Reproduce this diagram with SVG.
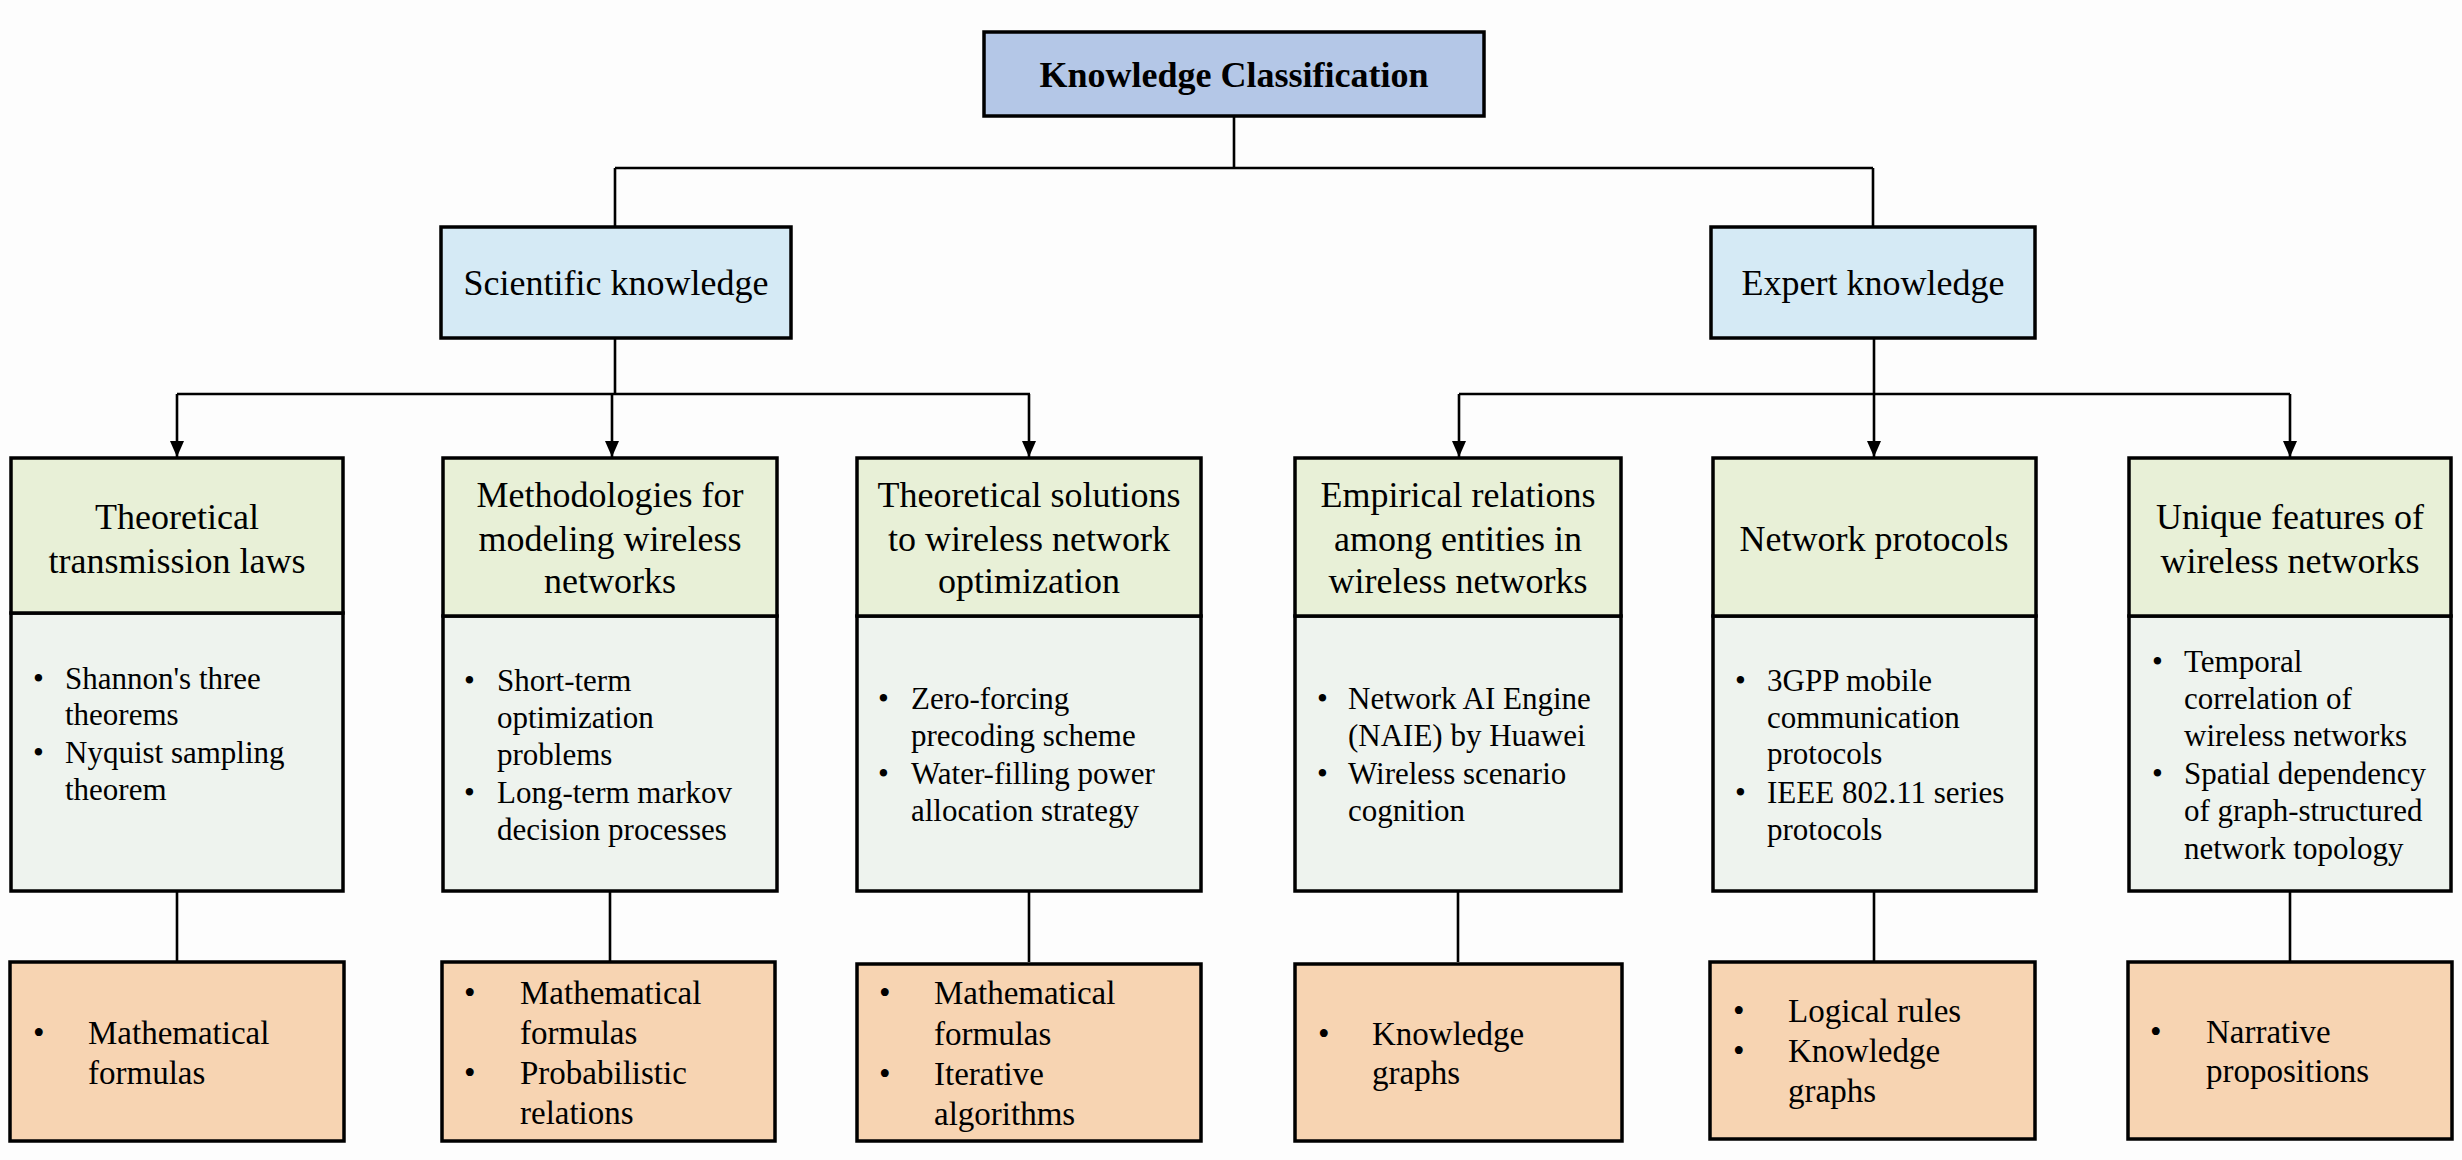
<svg xmlns="http://www.w3.org/2000/svg" width="2462" height="1160" viewBox="0 0 2462 1160">
<defs>
<marker id="arr" viewBox="0 0 16 14" refX="16" refY="7" markerWidth="16" markerHeight="14" orient="auto" markerUnits="userSpaceOnUse">
<path d="M0,0 L16,7 L0,14 z" fill="#000"/>
</marker>
<style>
text{font-family:"Liberation Serif","Times New Roman",serif;fill:#000}
.box{stroke:#000;stroke-width:3.5}
.root{fill:#B4C7E7}
.l1{fill:#D5EAF5}
.hd{fill:#E8F0D7}
.bd{fill:#EEF3EE}
.bt{fill:#F7D4B2}
.tr{font-size:36px;font-weight:bold;text-anchor:middle}
.t1{font-size:36px;text-anchor:middle}
.th{font-size:36px;text-anchor:middle}
.tb{font-size:31px}
.tt{font-size:33px}
.ln{stroke:#000;stroke-width:2.6;fill:none}
</style>
</defs>
<rect width="2462" height="1160" fill="#FDFDFD"/>

<g id="connectors">
<path class="ln" d="M1234,116 V168 M615,168 H1873 M615,168 V227 M1873,168 V227"/>
<path class="ln" d="M615,338 V394 M177,394 H1030 M1459,394 H2290 M1874,338 V394"/>
<path class="ln" marker-end="url(#arr)" d="M177,394 V457"/>
<path class="ln" marker-end="url(#arr)" d="M612,394 V457"/>
<path class="ln" marker-end="url(#arr)" d="M1029,394 V457"/>
<path class="ln" marker-end="url(#arr)" d="M1459,394 V457"/>
<path class="ln" marker-end="url(#arr)" d="M1874,394 V457"/>
<path class="ln" marker-end="url(#arr)" d="M2290,394 V457"/>
<path class="ln" d="M177,891 V962 M610,891 V962 M1029,891 V962 M1458,891 V962 M1874,891 V962 M2290,891 V962"/>
</g>

<g id="root">
<rect class="box root" x="984" y="32" width="500" height="84"/>
<text class="tr" x="1234" y="87">Knowledge Classification</text>
</g>

<g id="scientific">
<rect class="box l1" x="441" y="227" width="350" height="111"/>
<text class="t1" x="616" y="295">Scientific knowledge</text>
</g>

<g id="expert">
<rect class="box l1" x="1711" y="227" width="324" height="111"/>
<text class="t1" x="1873" y="295">Expert knowledge</text>
</g>

<g id="n1">
<rect class="box bd" x="11" y="613" width="332" height="278"/>
<rect class="box hd" x="11" y="458" width="332" height="155"/>
<text class="th" x="177" y="529">Theoretical</text>
<text class="th" x="177" y="573">transmission laws</text>
<text class="tb" x="33" y="689">•</text><text class="tb" x="65" y="689">Shannon's three</text>
<text class="tb" x="65" y="725">theorems</text>
<text class="tb" x="33" y="763">•</text><text class="tb" x="65" y="763">Nyquist sampling</text>
<text class="tb" x="65" y="800">theorem</text>
</g>

<g id="n2">
<rect class="box bd" x="443" y="616" width="334" height="275"/>
<rect class="box hd" x="443" y="458" width="334" height="158"/>
<text class="th" x="610" y="507">Methodologies for</text>
<text class="th" x="610" y="551">modeling wireless</text>
<text class="th" x="610" y="593">networks</text>
<text class="tb" x="464" y="691">•</text><text class="tb" x="497" y="691">Short-term</text>
<text class="tb" x="497" y="728">optimization</text>
<text class="tb" x="497" y="765">problems</text>
<text class="tb" x="464" y="803">•</text><text class="tb" x="497" y="803">Long-term markov</text>
<text class="tb" x="497" y="840">decision processes</text>
</g>

<g id="n3">
<rect class="box bd" x="857" y="616" width="344" height="275"/>
<rect class="box hd" x="857" y="458" width="344" height="158"/>
<text class="th" x="1029" y="507">Theoretical solutions</text>
<text class="th" x="1029" y="551">to wireless network</text>
<text class="th" x="1029" y="593">optimization</text>
<text class="tb" x="878" y="709">•</text><text class="tb" x="911" y="709">Zero-forcing</text>
<text class="tb" x="911" y="746">precoding scheme</text>
<text class="tb" x="878" y="784">•</text><text class="tb" x="911" y="784">Water-filling power</text>
<text class="tb" x="911" y="821">allocation strategy</text>
</g>

<g id="n4">
<rect class="box bd" x="1295" y="616" width="326" height="275"/>
<rect class="box hd" x="1295" y="458" width="326" height="158"/>
<text class="th" x="1458" y="507">Empirical relations</text>
<text class="th" x="1458" y="551">among entities in</text>
<text class="th" x="1458" y="593">wireless networks</text>
<text class="tb" x="1317" y="709">•</text><text class="tb" x="1348" y="709">Network AI Engine</text>
<text class="tb" x="1348" y="746">(NAIE) by Huawei</text>
<text class="tb" x="1317" y="784">•</text><text class="tb" x="1348" y="784">Wireless scenario</text>
<text class="tb" x="1348" y="821">cognition</text>
</g>

<g id="n5">
<rect class="box bd" x="1713" y="616" width="323" height="275"/>
<rect class="box hd" x="1713" y="458" width="323" height="158"/>
<text class="th" x="1874" y="551">Network protocols</text>
<text class="tb" x="1735" y="691">•</text><text class="tb" x="1767" y="691">3GPP mobile</text>
<text class="tb" x="1767" y="728">communication</text>
<text class="tb" x="1767" y="764">protocols</text>
<text class="tb" x="1735" y="803">•</text><text class="tb" x="1767" y="803">IEEE 802.11 series</text>
<text class="tb" x="1767" y="840">protocols</text>
</g>

<g id="n6">
<rect class="box bd" x="2129" y="616" width="322" height="275"/>
<rect class="box hd" x="2129" y="458" width="322" height="158"/>
<text class="th" x="2290" y="529">Unique features of</text>
<text class="th" x="2290" y="573">wireless networks</text>
<text class="tb" x="2152" y="672">•</text><text class="tb" x="2184" y="672">Temporal</text>
<text class="tb" x="2184" y="709">correlation of</text>
<text class="tb" x="2184" y="746">wireless networks</text>
<text class="tb" x="2152" y="784">•</text><text class="tb" x="2184" y="784">Spatial dependency</text>
<text class="tb" x="2184" y="821">of graph-structured</text>
<text class="tb" x="2184" y="859">network topology</text>
</g>

<g id="b1">
<rect class="box bt" x="10" y="962" width="334" height="179"/>
<text class="tt" x="33" y="1044">•</text><text class="tt" x="88" y="1044">Mathematical</text>
<text class="tt" x="88" y="1084">formulas</text>
</g>

<g id="b2">
<rect class="box bt" x="442" y="962" width="333" height="179"/>
<text class="tt" x="464" y="1004">•</text><text class="tt" x="520" y="1004">Mathematical</text>
<text class="tt" x="520" y="1044">formulas</text>
<text class="tt" x="464" y="1084">•</text><text class="tt" x="520" y="1084">Probabilistic</text>
<text class="tt" x="520" y="1124">relations</text>
</g>

<g id="b3">
<rect class="box bt" x="857" y="964" width="344" height="177"/>
<text class="tt" x="879" y="1004">•</text><text class="tt" x="934" y="1004">Mathematical</text>
<text class="tt" x="934" y="1045">formulas</text>
<text class="tt" x="879" y="1085">•</text><text class="tt" x="934" y="1085">Iterative</text>
<text class="tt" x="934" y="1125">algorithms</text>
</g>

<g id="b4">
<rect class="box bt" x="1295" y="964" width="327" height="177"/>
<text class="tt" x="1318" y="1045">•</text><text class="tt" x="1372" y="1045">Knowledge</text>
<text class="tt" x="1372" y="1084">graphs</text>
</g>

<g id="b5">
<rect class="box bt" x="1710" y="962" width="325" height="177"/>
<text class="tt" x="1733" y="1022">•</text><text class="tt" x="1788" y="1022">Logical rules</text>
<text class="tt" x="1733" y="1062">•</text><text class="tt" x="1788" y="1062">Knowledge</text>
<text class="tt" x="1788" y="1102">graphs</text>
</g>

<g id="b6">
<rect class="box bt" x="2128" y="962" width="324" height="177"/>
<text class="tt" x="2150" y="1043">•</text><text class="tt" x="2206" y="1043">Narrative</text>
<text class="tt" x="2206" y="1082">propositions</text>
</g>
</svg>
